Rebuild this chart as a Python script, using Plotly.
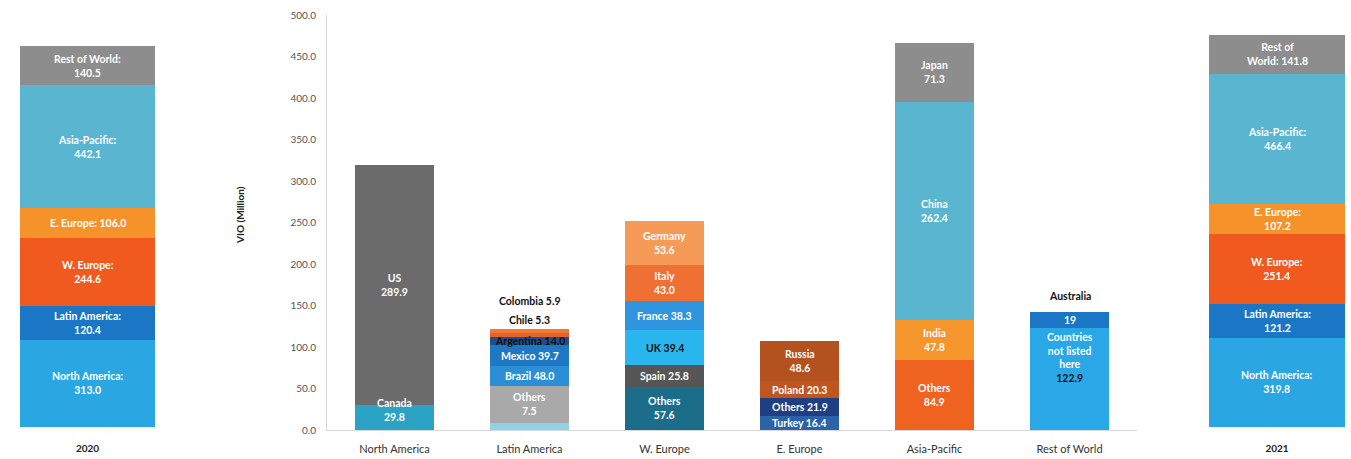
import plotly.graph_objects as go

W, H = 1351, 459

# ---------------- data ----------------
categories = ["North America", "Latin America", "W. Europe", "E. Europe", "Asia-Pacific", "Rest of World"]

na_names = ["Canada", "US"]
na_values = [29.8, 289.9]
na_labels = ["Canada<br>29.8", "US<br>289.9"]

la_names = ["Small", "Others", "Brazil", "Mexico", "Argentina", "Chile", "Colombia"]
la_values = [8.5, 44.5, 24.0, 25.0, 10.0, 4.5, 4.7]
la_labels = ["", "Others<br>7.5", "Brazil 48.0", "Mexico 39.7", "Argentina 14.0", "Chile 5.3", "Colombia 5.9"]

we_names = ["Others", "Spain", "UK", "France", "Italy", "Germany"]
we_values = [52.4, 25.9, 42.2, 34.5, 44.0, 52.4]
we_labels = ["Others<br>57.6", "Spain 25.8", "UK 39.4", "France 38.3", "Italy<br>43.0", "Germany<br>53.6"]

ee_names = ["Turkey", "Others", "Poland", "Russia"]
ee_values = [16.4, 21.9, 20.3, 48.6]
ee_labels = ["Turkey 16.4", "Others 21.9", "Poland 20.3", "Russia<br>48.6"]

ap_names = ["Others", "India", "China", "Japan"]
ap_values = [84.9, 47.8, 262.4, 71.3]
ap_labels = ["Others<br>84.9", "India<br>47.8", "China<br>262.4", "Japan<br>71.3"]

rw_names = ["Countries not listed here", "Australia"]
rw_values = [122.9, 19.0]
rw_labels = ["Countries<br>not listed<br>here<br><span style='color:#111'>122.9</span>", "19"]

side_regions = ["North America", "Latin America", "W. Europe", "E. Europe", "Asia-Pacific", "Rest of World"]
vio_2020 = [313.0, 120.4, 244.6, 106.0, 442.1, 140.5]
vio_2021 = [319.8, 121.2, 251.4, 107.2, 466.4, 141.8]
labels_2020 = ["North America:<br>313.0", "Latin America:<br>120.4", "W. Europe:<br>244.6",
               "E. Europe: 106.0", "Asia-Pacific:<br>442.1", "Rest of World:<br>140.5"]
labels_2021 = ["North America:<br>319.8", "Latin America:<br>121.2", "W. Europe:<br>251.4",
               "E. Europe:<br>107.2", "Asia-Pacific:<br>466.4", "Rest of<br>World: 141.8"]
years = ["2020", "2021"]

# ---------------- styles ----------------
FONT = "Lato"
na_colors = ["#2aa3c4", "#6b6b6b"]
la_colors = ["#8fd3e6", "#a9a9a9", "#2c8fd6", "#1f78c4", "#1d4f8e", "#e5622a", "#ef7a35"]
we_colors = ["#1b6d8a", "#565656", "#2bb5ee", "#2f95df", "#f07033", "#f59a57"]
ee_colors = ["#2b62a8", "#1f3f82", "#c0561f", "#b4521f"]
ap_colors = ["#f06220", "#f5962c", "#5ab5d1", "#8d8d8d"]
rw_colors = ["#2aa7e6", "#1b76c6"]
side_colors = ["#2aa6e2", "#1b76c6", "#f05a1e", "#f5922a", "#5ab5d1", "#8d8d8d"]

fig = go.Figure()
annotations = []

def stack(cat, values, colors, labels, names, special=None):
    base = 0.0
    total = sum(values)
    special = special or {}
    for v, c, lab, n in zip(values, colors, labels, names):
        fig.add_trace(go.Bar(x=[cat], y=[v], marker=dict(color=c, line=dict(width=0)),
                             name=n, showlegend=False, xaxis="x", yaxis="y"))
        if lab:
            dark = n in special.get("dark", [])
            if n in special.get("above", {}):
                annotations.append(dict(x=cat, y=total, xref="x", yref="y",
                                        yshift=special["above"][n], showarrow=False,
                                        text="<b>%s</b>" % lab,
                                        font=dict(family=FONT, size=10.5, color="#111")))
            else:
                annotations.append(dict(x=cat, y=base + v / 2, xref="x", yref="y",
                                        yshift=special.get("shift", {}).get(n, 0),
                                        showarrow=False, text="<b>%s</b>" % lab,
                                        font=dict(family=FONT, size=10.5,
                                                  color="#111" if dark else "white")))
        base += v

stack(categories[0], na_values, na_colors, na_labels, na_names, {"shift": {"Canada": 8}})
stack(categories[1], la_values, la_colors, la_labels, la_names,
      {"dark": ["Argentina"], "above": {"Chile": 9, "Colombia": 28}})
stack(categories[2], we_values, we_colors, we_labels, we_names, {"dark": ["UK"]})
stack(categories[3], ee_values, ee_colors, ee_labels, ee_names)
stack(categories[4], ap_values, ap_colors, ap_labels, ap_names)
stack(categories[5], rw_values, rw_colors, rw_labels, rw_names, {"shift": {"Countries not listed here": 22}})
annotations.append(dict(x=categories[5], y=sum(rw_values), xref="x", yref="y", yshift=16,
                        showarrow=False, text="<b>Australia</b>",
                        font=dict(family=FONT, size=10.5, color="#111")))

# side bars
for year, vals, labs, ax in [(years[0], vio_2020, labels_2020, "2"), (years[1], vio_2021, labels_2021, "3")]:
    base = 0.0
    for reg, v, c, lab in zip(side_regions, vals, side_colors, labs):
        fig.add_trace(go.Bar(x=[year], y=[v], width=0.92, marker=dict(color=c, line=dict(width=0)),
                             name=reg, showlegend=False, xaxis="x" + ax, yaxis="y" + ax))
        annotations.append(dict(x=0, y=base + v / 2, xref="x" + ax, yref="y" + ax,
                                showarrow=False, text="<b>%s</b>" % lab,
                                font=dict(family=FONT, size=10.5, color="white")))
        base += v

# y-axis title
annotations.append(dict(x=232 / W, y=(430 - 215) / 415, xref="paper", yref="paper",
                        text="<b>VIO (Million)</b>", textangle=-90, showarrow=False,
                        font=dict(family=FONT, size=10, color="#222")))

side_y_range = [-10.8, 1478]
fig.update_layout(
    width=W, height=H, autosize=False,
    margin=dict(l=0, r=0, t=15, b=29),
    paper_bgcolor="white", plot_bgcolor="white",
    barmode="stack", bargap=0.415,
    font=dict(family=FONT),
    annotations=annotations,
    xaxis=dict(domain=[327 / W, 1137 / W], type="category", categoryorder="array",
               categoryarray=categories, range=[-0.5, 5.5], anchor="y",
               showline=True, linecolor="#d9d9d9", linewidth=1,
               ticks="outside", ticklen=9, tickcolor="rgba(0,0,0,0)",
               tickfont=dict(family=FONT, size=11, color="#333"), showgrid=False),
    yaxis=dict(domain=[0, 1], range=[0, 500], tickvals=[i * 50 for i in range(11)],
               tickformat=".1f", anchor="x", showline=True, linecolor="#d9d9d9",
               ticks="outside", ticklen=8, tickcolor="rgba(0,0,0,0)",
               tickfont=dict(family=FONT, size=10, color="#555"),
               showgrid=False, zeroline=False),
    xaxis2=dict(domain=[14 / W, 161 / W], type="category", anchor="y2", range=[-0.5, 0.5],
                showline=False, ticks="outside", ticklen=9, tickcolor="rgba(0,0,0,0)",
                tickfont=dict(family=FONT, size=10, color="#222"), tickprefix="<b>", ticksuffix="</b>"),
    yaxis2=dict(domain=[0, 1], range=side_y_range, anchor="x2", visible=False),
    xaxis3=dict(domain=[1203 / W, 1.0], type="category", anchor="y3", range=[-0.5, 0.5],
                showline=False, ticks="outside", ticklen=9, tickcolor="rgba(0,0,0,0)",
                tickfont=dict(family=FONT, size=10, color="#222"), tickprefix="<b>", ticksuffix="</b>"),
    yaxis3=dict(domain=[0, 1], range=side_y_range, anchor="x3", visible=False),
)

fig.write_html("out.html", config={"displayModeBar": False},
               post_script="document.body.style.margin='0px';document.body.style.overflow='hidden';")
